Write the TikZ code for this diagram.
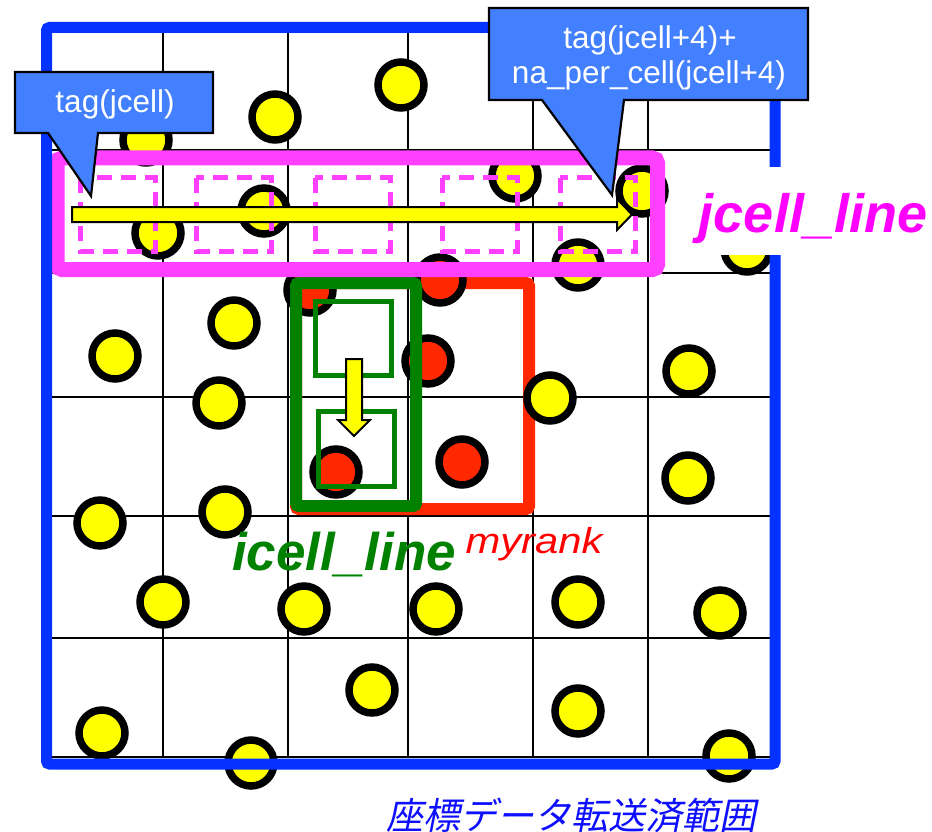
\documentclass[tikz,border=0pt]{standalone}
\usepackage{fontspec}
\usepackage{graphicx}
\setmainfont{Liberation Sans}
\newfontfamily\jpfont[FakeSlant=0.2]{Noto Sans CJK JP}
\definecolor{frameblue}{RGB}{5,50,255}
\definecolor{pinkb}{RGB}{255,64,255}
\definecolor{callblue}{RGB}{66,128,255}
\definecolor{redb}{RGB}{255,40,0}
\definecolor{greenb}{RGB}{0,130,0}
\definecolor{yel}{RGB}{255,255,0}
\definecolor{magtext}{RGB}{255,0,255}
\definecolor{jpblue}{RGB}{15,15,255}
\tikzset{
  gridline/.style={black,line width=2.4pt},
  ycirc/.style={circle,draw=black,fill=yel,line width=7.5pt,minimum size=46pt,inner sep=0pt},
  rcirc/.style={ycirc,fill=redb},
  dashbox/.style={draw=pinkb,line width=5pt,dash pattern=on 15pt off 9pt},
  blockarrow/.style={fill=yel,draw=black,line width=2pt,line join=miter},
  callout/.style={fill=callblue,draw=black,line width=2.2pt,line join=miter},
  calltext/.style={text=white,font=\fontsize{31.5}{36}\selectfont,anchor=base,inner sep=0pt},
  bigbold/.style={font=\fontsize{54}{60}\selectfont\bfseries\itshape,anchor=base,inner sep=0pt}
}
\begin{document}
\begin{tikzpicture}[x=1pt,y=-1pt]
\useasboundingbox (0,0) rectangle (932,832);
\fill[white] (0,0) rectangle (932,832);
% grid
\foreach \gx in {163,288,408,533,648}{\draw[gridline] (\gx,33) -- (\gx,757);}
\foreach \gy in {150,273,397,516,638,757}{\draw[gridline] (52,\gy) -- (770,\gy);}
% red frame
\draw[draw=redb,line width=12pt,rounded corners=3pt] (296,283) rectangle (529,509);
% circles
\foreach \cx/\cy [count=\i] in {146/140,275/117,401/85,515/176,642/191,264/211,158/233,578/265,747/249,234/323,115/356,219/403,550/398,689/371,688/478,100/523,225/512,163/602,304/609,436/609,578/602,720/613,372/690,578/711,102/733,251/763,729/756}
  {\node[ycirc] (y\i) at (\cx,\cy) {};}
\foreach \cx/\cy [count=\i] in {310/290,440/280,428/361,336/472,462/462}
  {\node[rcirc] (r\i) at (\cx,\cy) {};}
% green frames
\draw[draw=greenb,line width=12pt,rounded corners=3pt] (296,283) rectangle (416,506);
\draw[draw=greenb,line width=5pt] (315.5,301.5) rectangle (391.5,375.5);
\draw[draw=greenb,line width=5pt] (318.5,411.5) rectangle (394.5,486.5);
\draw[blockarrow] (346,359) -- (362,359) -- (362,420) -- (370,420) -- (354,436) -- (338,420) -- (346,420) -- cycle;
% pink jcell_line box
\draw[draw=pinkb,line width=15pt,rounded corners=5pt] (57,158) rectangle (657.5,269.5);
\foreach \bx in {80,196,315,442,560}{\draw[dashbox] (\bx,178) rectangle ++(75,73);}
\draw[blockarrow] (72,207) -- (617,207) -- (617,199) -- (632,214.5) -- (617,230) -- (617,222) -- (72,222) -- cycle;
% blue frame
\draw[draw=frameblue,line width=11pt,rounded corners=3pt] (46.5,27.5) rectangle (775,764);
% labels
\fill[white] (680,167) rectangle (932,255);
\node[bigbold,text=magtext] (jl) at (813,233) {jcell\_line};
\node[bigbold,text=greenb,font=\fontsize{53}{60}\selectfont\bfseries\itshape] (il) at (344,570) {icell\_line};
\node[anchor=base,inner sep=0pt,text=red,font=\fontsize{36}{40}\selectfont\itshape] (mr) at (534,553) {\scalebox{1.16}[1]{myrank}};
\node[anchor=base,inner sep=0pt,text=jpblue,font=\fontsize{37}{40}\selectfont\jpfont] (jp) at (571,829) {座標データ転送済範囲};
% callouts
\draw[callout] (15,72) -- (213,72) -- (213,133) -- (98,133) -- (91,196) -- (48,133) -- (15,133) -- cycle;
\node[calltext] (t1) at (115,113) {tag(jcell)};
\draw[callout] (489,8) -- (808,8) -- (808,100) -- (624,100) -- (612,195) -- (542,100) -- (489,100) -- cycle;
\node[calltext] (t2) at (650,49) {tag(jcell+4)+};
\node[calltext] (t3) at (649,84) {na\_per\_cell(jcell+4)};
\end{tikzpicture}
\end{document}
